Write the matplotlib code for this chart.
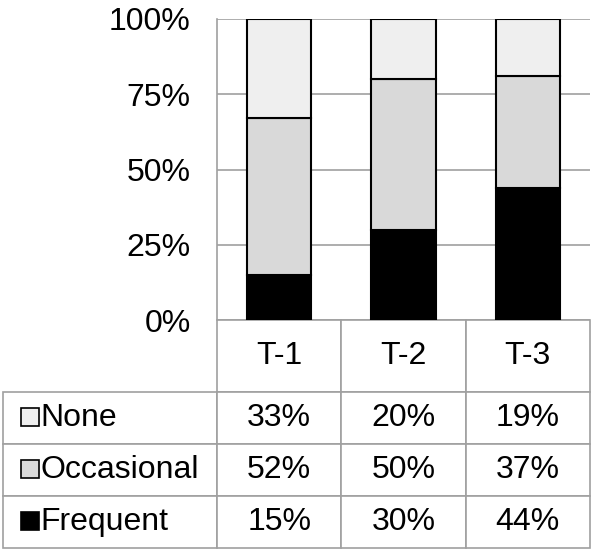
import matplotlib
matplotlib.use("Agg")
import matplotlib.pyplot as plt
from matplotlib.patches import Rectangle
from matplotlib.ticker import PercentFormatter
import numpy as np

plt.rcParams['font.family'] = ['Liberation Sans', 'DejaVu Sans']

periods = ["T-1", "T-2", "T-3"]
series = ["None", "Occasional", "Frequent"]
frequent = [15, 30, 44]
occasional = [52, 50, 37]
none = [33, 20, 19]
yticks = [0, 25, 50, 75, 100]

fill = {"None": "#efefef", "Occasional": "#d9d9d9", "Frequent": "#000000"}
grid_col = "#a0a0a0"

W, H = 600, 558
fig = plt.figure(figsize=(W / 100, H / 100), dpi=100)
# plot area in pixels: x 217..590, y 19..320
ax = fig.add_axes([217 / W, 1 - 320 / H, 373 / W, 301 / H])

x = np.arange(len(periods))
bw = 0.52
ax.bar(x, frequent, bw, color=fill["Frequent"], edgecolor="black", linewidth=1.5, zorder=3)
ax.bar(x, occasional, bw, bottom=frequent, color=fill["Occasional"], edgecolor="black",
       linewidth=1.5, zorder=3)
ax.bar(x, none, bw, bottom=np.add(frequent, occasional), color=fill["None"],
       edgecolor="black", linewidth=1.5, zorder=3)

ax.set_xlim(-0.5, len(periods) - 0.5)
ax.set_ylim(0, 100)
ax.set_yticks(yticks)
ax.yaxis.set_major_formatter(PercentFormatter(decimals=0))
ax.tick_params(axis="y", length=0, pad=19, labelsize=23)
ax.set_xticks([])
ax.grid(axis="y", color=grid_col, linewidth=1.2)
ax.set_axisbelow(True)
for s in ["top", "right", "bottom"]:
    ax.spines[s].set_visible(False)
ax.spines["left"].set_color(grid_col)
ax.spines["left"].set_linewidth(1.2)

# data table under the plot (rows listed top to bottom like the legend)
rows = [none, occasional, frequent]
cell_text = [["%d%%" % v for v in r] for r in rows]

# table geometry, pixels converted to axes units; bbox covers the data grid
axw, axh = 373, 301
tab_left, tab_bottom = 10, 548
lab_w, col_w = (217 - tab_left) / axw, 1 / 3
head_h, row_h = 72 / axh, 52 / axh
tbl = ax.table(cellText=cell_text, rowLabels=series, colLabels=periods,
               cellLoc="center", rowLoc="left",
               bbox=[0, -(tab_bottom - 320) / axh, 1, (tab_bottom - 320) / axh])
tbl.auto_set_font_size(False)
tbl.set_fontsize(23)
for (r, c), cell in tbl.get_celld().items():
    cell.set_edgecolor(grid_col)
    cell.set_linewidth(1.2)
    cell.set_height(head_h if r == 0 else row_h)
    cell.set_width(lab_w if c == -1 else col_w)
    if c == -1:
        cell.PAD = 36 / (217 - tab_left)

# legend keys in the row label cells
key = 18
for i, name in enumerate(series):
    yc = 320 + 72 + 52 * i + 25
    ax.add_patch(Rectangle(((tab_left + 11 - 217) / axw, (320 - yc - key / 2) / axh),
                           key / axw, key / axh, transform=ax.transAxes,
                           facecolor=fill[name], edgecolor="black", linewidth=1.2,
                           clip_on=False, zorder=5))

fig.savefig("out.png", dpi=100)
